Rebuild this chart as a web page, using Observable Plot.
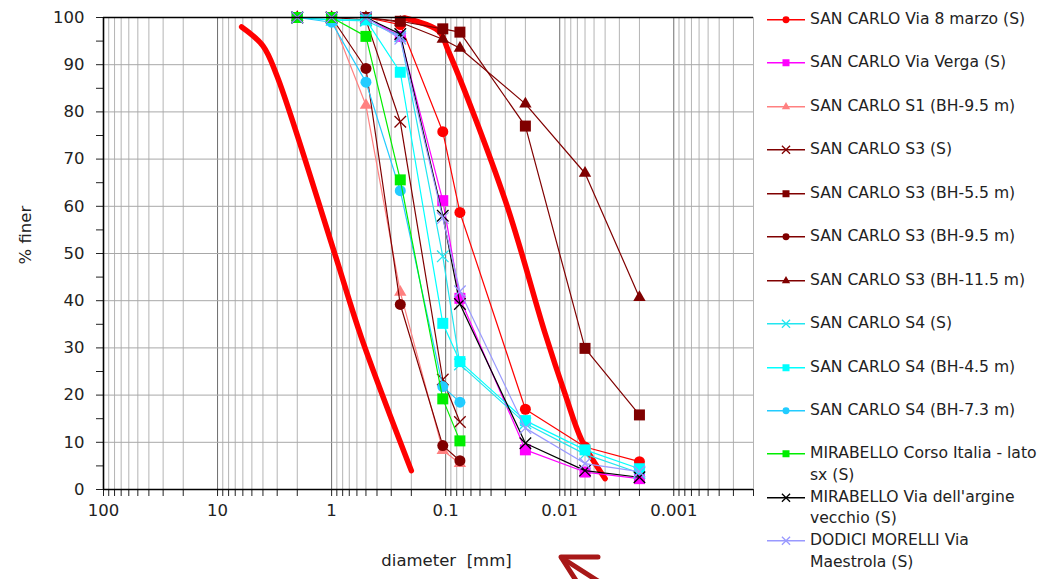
<!DOCTYPE html>
<html><head><meta charset="utf-8">
<script src="https://cdn.jsdelivr.net/npm/d3@7"></script>
<script src="https://cdn.jsdelivr.net/npm/@observablehq/plot@0.6"></script>
<style>
body{margin:0;background:#fff;font-family:"DejaVu Sans",sans-serif;}
#wrap{position:relative;width:1040px;height:579px;overflow:hidden;background:#fff;}
#chart{position:absolute;left:0;top:0;}
#legend{position:absolute;left:760px;top:0;width:280px;height:579px;}
.item{position:absolute;left:0;display:flex;align-items:flex-start;}
.item svg{flex:none;display:block;}
.item span{font-size:15.6px;line-height:21.5px;color:#222;white-space:pre-line;}
#arrow{position:absolute;left:0;top:0;pointer-events:none;}
</style></head><body>
<div id="wrap"><div id="chart"></div><div id="legend"></div>
<svg id="arrow" width="1040" height="579"><g fill="none" stroke="#a81818" stroke-width="5" stroke-linecap="round" stroke-linejoin="round"><path d="M598 557 L561 557 L577 582"/><path d="M562 558 L612 590"/></g></svg>
</div>
<script>
// ---- data ----
const sieves = [2, 1, 0.5, 0.25, 0.106, 0.075, 0.02, 0.006, 0.002];
const seriesNames = [
  "SAN CARLO Via 8 marzo (S)",
  "SAN CARLO Via Verga (S)",
  "SAN CARLO S1 (BH-9.5 m)",
  "SAN CARLO S3 (S)",
  "SAN CARLO S3 (BH-5.5 m)",
  "SAN CARLO S3 (BH-9.5 m)",
  "SAN CARLO S3 (BH-11.5 m)",
  "SAN CARLO S4 (S)",
  "SAN CARLO S4 (BH-4.5 m)",
  "SAN CARLO S4 (BH-7.3 m)",
  "MIRABELLO Corso Italia - lato\nsx (S)",
  "MIRABELLO Via dell'argine\nvecchio (S)",
  "DODICI MORELLI Via\nMaestrola (S)"
];
const seriesColors = ["#ff0000","#ff00ff","#ff8080","#800000","#800000","#800000","#800000",
  "#22e6f0","#00ffff","#22ccff","#00ee00","#000000","#9999ff"];
const seriesSymbols = ["circle","square","triangle","times","square","circle","triangle",
  "times","square","circle","square","times","times"];
const via8Marzo     = [100, 100, 100, 98.5, 75.8, 58.7, 17.0, 9.0, 5.9];
const viaVerga      = [100, 100, 100, 96.0, 61.2, 40.5, 8.4, 3.7, 2.3];
const s1Bh95        = [100, 100, 81.4, 41.8, 8.3, 5.5, null, null, null];
const s3S           = [100, 100, 99.5, 77.9, 23.3, 14.3, null, null, null];
const s3Bh55        = [100, 100, 100, 99.2, 97.6, 96.9, 77.0, 29.9, 15.8];
const s3Bh95        = [100, 100, 89.2, 39.2, 9.3, 6.1, null, null, null];
const s3Bh115       = [100, 100, 100, 99.0, 95.4, 93.5, 81.7, 67.0, 40.7];
const s4S           = [100, 99.5, 99.3, 96.0, 49.4, 26.5, 14.0, 7.5, 3.5];
const s4Bh45        = [100, 99.5, 99.5, 88.4, 35.2, 27.1, 14.6, 8.4, 4.4];
const s4Bh73        = [100, 99.0, 86.3, 63.3, 21.8, 18.5, null, null, null];
const mirabelloCorso  = [100, 100, 96.0, 65.6, 19.2, 10.3, null, null, null];
const mirabelloArgine = [100, 100, 100, 96.5, 58.0, 39.3, 9.8, 4.0, 2.6];
const dodiciMorelli   = [100, 100, 100, 95.5, 57.5, 42.0, 13.0, 5.5, 3.8];
const seriesValues = [via8Marzo, viaVerga, s1Bh95, s3S, s3Bh55, s3Bh95, s3Bh115,
  s4S, s4Bh45, s4Bh73, mirabelloCorso, mirabelloArgine, dodiciMorelli];

// liquefaction boundary curves (thick red)
const boundaryLeftD  = [6.15, 4.0, 3.0, 0.94, 0.55, 0.2];
const boundaryLeftP  = [98, 94, 87.5, 50, 32.3, 4];
const boundaryRightD = [0.23, 0.116, 0.095, 0.03, 0.0134, 0.009, 0.0064, 0.004];
const boundaryRightP = [99.9, 97.2, 93, 61.2, 33, 20.3, 10.4, 2.3];

const xTickValues = [100, 10, 1, 0.1, 0.01, 0.001];
const xTickLabels = ["100", "10", "1", "0.1", "0.01", "0.001"];
const xDomain = [100, 0.0002];
const yDomain = [0, 100];

// ---- derived ----
const minorTicks = [];
for (let e = -4; e <= 2; e++) for (let m = 1; m <= 9; m++) {
  const v = +(m * Math.pow(10, e)).toPrecision(6);
  if (v <= xDomain[0] && v >= xDomain[1]) minorTicks.push(v);
}
const isMajor = v => xTickValues.some(t => Math.abs(Math.log10(v / t)) < 1e-6);
const xFmt = v => { const k = xTickValues.findIndex(t => Math.abs(Math.log10(v / t)) < 1e-6); return k >= 0 ? xTickLabels[k] : ""; };
const yTicks = d3.range(yDomain[0], yDomain[1] + 1, 5);
const yGrid = d3.range(yDomain[0] + 10, yDomain[1], 10);

const leftRows = boundaryLeftD.map((d, i) => ({d, p: boundaryLeftP[i]}));
const rightRows = boundaryRightD.map((d, i) => ({d, p: boundaryRightP[i]}));

const marks = [
  Plot.ruleX(minorTicks.filter(t => !isMajor(t)), {stroke: "#b4b4b4", strokeWidth: 1}),
  Plot.ruleX(xTickValues, {stroke: "#6e6e6e", strokeWidth: 1}),
  Plot.ruleY(yGrid, {stroke: "#a8a8a8", strokeWidth: 1}),
  Plot.line(leftRows, {x: "d", y: "p", stroke: "#ff0000", strokeWidth: 5.5, curve: "catmull-rom"}),
  Plot.line(rightRows, {x: "d", y: "p", stroke: "#ff0000", strokeWidth: 5.5, curve: "catmull-rom"})
];
const symR = {circle: 5.5, square: 6.2, triangle: 4.6, times: 5.3};
seriesValues.forEach((vals, i) => {
  const rows = sieves.map((d, j) => ({d, p: vals[j]})).filter(r => r.p != null);
  const c = seriesColors[i], s = seriesSymbols[i];
  marks.push(Plot.line(rows, {x: "d", y: "p", stroke: c, strokeWidth: 1.2}));
  if (s === "times")
    marks.push(Plot.dot(rows, {x: "d", y: "p", symbol: s, r: symR[s], stroke: c, strokeWidth: 1.3, fill: "none"}));
  else
    marks.push(Plot.dot(rows, {x: "d", y: "p", symbol: s, r: symR[s], fill: c, stroke: "none"}));
});
marks.push(
  Plot.ruleY([yDomain[0]], {stroke: "#000", strokeWidth: 1.6}),
  Plot.ruleY([yDomain[1]], {stroke: "#000", strokeWidth: 1.6}),
  Plot.ruleX([xDomain[0]], {stroke: "#000", strokeWidth: 1.6}),
  Plot.text(["% finer"], {frameAnchor: "left", rotate: -90, dx: -78, dy: 11, fontSize: 16.5, fill: "#222"}),
  Plot.text(["diameter\u00a0 [mm]"], {frameAnchor: "bottom", dx: 18, dy: 76, fontSize: 16.5, fill: "#222"})
);

const chart = Plot.plot({
  width: 760, height: 579,
  marginTop: 17, marginBottom: 90, marginLeft: 103, marginRight: 7,
  style: {fontFamily: "DejaVu Sans, sans-serif", fontSize: "16.5px", color: "#222", background: "transparent"},
  x: {type: "log", domain: xDomain, ticks: minorTicks, tickFormat: xFmt, tickSize: 7, tickPadding: 8, label: null},
  y: {domain: yDomain, ticks: yTicks, tickFormat: d => d % 10 === 0 ? String(d) : "", tickSize: 7, tickPadding: 12, label: null},
  marks
});
document.getElementById("chart").appendChild(chart);

// ---- legend ----
const legend = d3.select("#legend");
const symMap = {circle: d3.symbolCircle, square: d3.symbolSquare, triangle: d3.symbolTriangle, times: d3.symbolTimes};
const symSize = {circle: 38, square: 49, triangle: 30, times: 45};
seriesNames.forEach((name, i) => {
  const item = legend.append("div").attr("class", "item").style("top", (8.9 + i * 43.45) + "px");
  const svg = item.append("svg").attr("width", 50).attr("height", 21.5);
  const c = seriesColors[i], s = seriesSymbols[i];
  svg.append("line").attr("x1", 7).attr("x2", 45).attr("y1", 10.75).attr("y2", 10.75).attr("stroke", c).attr("stroke-width", 1.3);
  const p = svg.append("path").attr("d", d3.symbol(symMap[s], symSize[s])()).attr("transform", "translate(26,10.75)");
  if (s === "times") p.attr("fill", "none").attr("stroke", c).attr("stroke-width", 1.3);
  else p.attr("fill", c);
  item.append("span").text(name);
});
</script>
</body></html>
